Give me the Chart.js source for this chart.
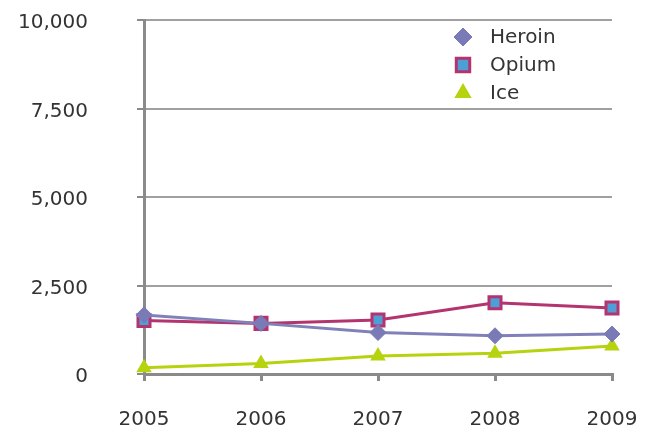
<!DOCTYPE html>
<html>
<head>
<meta charset="utf-8">
<script src="https://cdn.jsdelivr.net/npm/chart.js@4/dist/chart.umd.min.js"></script>
<style>
  html, body { margin: 0; padding: 0; background: #fff; }
  .wrap { width: 646px; height: 436px; }
</style>
</head>
<body>
<div class="wrap"><canvas class="js-chart"></canvas></div>
<script>
const years = ['2005', '2006', '2007', '2008', '2009'];
const heroin = [1670, 1430, 1170, 1080, 1130];
const opium = [1510, 1430, 1525, 2015, 1865];
const ice = [180, 300, 505, 585, 790];
const yTicks = [0, 2500, 5000, 7500, 10000];

const FONT = { family: '"DejaVu Sans", sans-serif', size: 20 };
const ctx = document.querySelector('.js-chart').getContext('2d');

// small legend in the top right corner of the plot
const cornerLegend = {
    id: 'cornerLegend',
    afterDraw(chart) {
        const c = chart.ctx;
        const x = 463, y0 = 37, step = 28;
        c.save();
        chart.data.datasets.forEach((ds, i) => {
            const y = y0 + i * step;
            c.fillStyle = ds.pointBackgroundColor;
            c.strokeStyle = ds.pointBorderColor;
            c.lineWidth = ds.pointBorderWidth;
            Chart.helpers.drawPoint(c, {
                pointStyle: ds.pointStyle,
                radius: ds.pointRadius + 1,
                rotation: 0,
                borderWidth: ds.pointBorderWidth
            }, x, y);
            c.fillStyle = '#333';
            c.font = '20px "DejaVu Sans", sans-serif';
            c.textAlign = 'left';
            c.textBaseline = 'middle';
            c.fillText(ds.label, 490, y + 1);
        });
        c.restore();
    }
};

new Chart(ctx, {
    type: 'line',
    data: {
        labels: years,
        datasets: [
            {
                label: 'Heroin',
                data: heroin,
                borderColor: '#8181b9',
                backgroundColor: '#7a7ab6',
                borderWidth: 3,
                pointStyle: 'rectRot',
                pointRadius: 8,
                pointBorderWidth: 1,
                pointBorderColor: '#7a7ab6',
                pointBackgroundColor: '#7a7ab6',
                tension: 0,
            },
            {
                label: 'Opium',
                data: opium,
                borderColor: '#b3346f',
                backgroundColor: '#4d9fd6',
                borderWidth: 3,
                pointStyle: 'rect',
                pointRadius: 8.5,
                pointBorderWidth: 3,
                pointBorderColor: '#b3346f',
                pointBackgroundColor: '#4d9fd6',
                tension: 0,
            },
            {
                label: 'Ice',
                data: ice,
                borderColor: '#b7d20f',
                backgroundColor: '#b7d20f',
                borderWidth: 3,
                pointStyle: 'triangle',
                pointRadius: 7,
                pointBorderWidth: 2,
                pointBorderColor: '#b7d20f',
                pointBackgroundColor: '#b7d20f',
                tension: 0,
            }
        ]
    },
    options: {
        responsive: true,
        maintainAspectRatio: false,
        animation: false,
        layout: { padding: { top: 20, right: 34, bottom: 0, left: 0 } },
        plugins: {
            tooltip: { enabled: false },
            legend: { display: false }
        },
        scales: {
            x: {
                type: 'category',
                offset: false,
                grid: {
                    drawOnChartArea: false,
                    color: '#8a8a8a',
                    lineWidth: 3,
                    tickLength: 7
                },
                border: { color: '#8a8a8a', width: 3 },
                ticks: { color: '#333', font: FONT, padding: 27, maxRotation: 0 },
                afterFit(scale) {
                    scale.height = 62;
                    scale.paddingLeft = 0;
                    scale.paddingRight = 0;
                }
            },
            y: {
                min: 0,
                max: 10000,
                afterBuildTicks(scale) { scale.ticks = yTicks.map(v => ({ value: v })); },
                grid: {
                    color: '#a0a0a0',
                    lineWidth: 2,
                    tickLength: 7,
                    tickColor: '#8a8a8a'
                },
                border: { color: '#8a8a8a', width: 3 },
                ticks: {
                    color: '#333',
                    font: FONT,
                    padding: 49,
                    labelOffset: 3,
                    callback(value) { return value.toLocaleString('en-US'); }
                },
                afterFit(scale) {
                    scale.width = 144;
                    scale.paddingTop = 0;
                    scale.paddingBottom = 0;
                }
            }
        }
    },
    plugins: [cornerLegend]
});
</script>
</body>
</html>
